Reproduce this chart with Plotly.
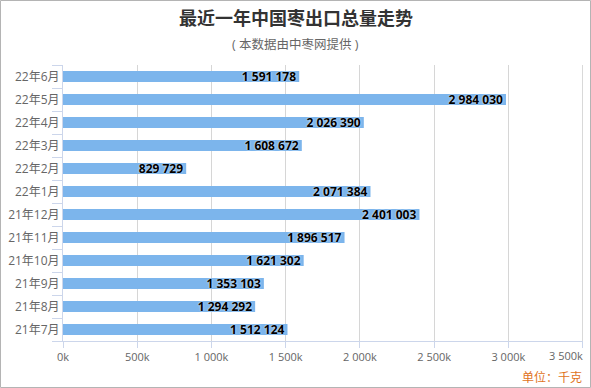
import plotly.graph_objects as go

categories = ["21年7月", "21年8月", "21年9月", "21年10月", "21年11月", "21年12月",
              "22年1月", "22年2月", "22年3月", "22年4月", "22年5月", "22年6月"]
export_kg = [1512124, 1294292, 1353103, 1621302, 1896517, 2401003,
             2071384, 829729, 1608672, 2026390, 2984030, 1591178]
tick_values = [0, 500000, 1000000, 1500000, 2000000, 2500000, 3000000, 3500000]
tick_labels = ["0k", "500k", "1 000k", "1 500k", "2 000k", "2 500k", "3 000k", "3 500k"]

W, H = 591, 388
ML, MR, MT, MB = 63, 8, 65, 47
PW, PH = W - ML - MR, H - MT - MB

FONT = "Open Sans, Noto Sans CJK SC, sans-serif"

fig = go.Figure(go.Bar(
    x=export_kg, y=categories, orientation="h",
    marker=dict(color="#7cb5ec", line=dict(width=0)),
    texttemplate="%{x:,}", textposition="inside", insidetextanchor="end",
    textangle=0, constraintext="none",
    textfont=dict(family=FONT, size=12, color="#000000", weight="bold",
                  shadow="0px 0px 2px #ffffff"),
    cliponaxis=False, hoverinfo="skip",
))

x_max = tick_values[-1] * 1.0008

fig.update_layout(
    width=W, height=H,
    margin=dict(l=ML, r=MR, t=MT, b=MB, autoexpand=False),
    paper_bgcolor="white", plot_bgcolor="white",
    bargap=0.52, separators=". ",
    showlegend=False,
    font=dict(family=FONT, color="#666666"),
    xaxis=dict(range=[0, x_max], tickvals=tick_values,
               ticktext=tick_labels[:-1] + [""],
               showgrid=True, gridcolor="#d6d6d6", gridwidth=1,
               showline=True, linecolor="#ccd6eb", linewidth=1,
               ticks="outside", ticklen=6, tickcolor="#ccd6eb",
               tickfont=dict(size=11, color="#666666", family=FONT),
               zeroline=False, fixedrange=True, automargin=False),
    yaxis=dict(type="category", showline=True, linecolor="#ccd6eb", linewidth=1,
               ticks="outside", ticklen=10, tickcolor="#ccd6eb", tickson="boundaries",
               tickfont=dict(size=12, color="#666666", family=FONT),
               showgrid=False, zeroline=False, fixedrange=True, automargin=False),
    annotations=[
        dict(text="<b>最近一年中国枣出口总量走势</b>", xref="paper", yref="paper",
             x=(W / 2 - ML) / PW, y=(H - MB - 18) / PH, showarrow=False,
             font=dict(size=18, color="#333333", family=FONT), xanchor="center", yanchor="middle"),
        dict(text="( 本数据由中枣网提供 )", xref="paper", yref="paper",
             x=(W / 2 - ML) / PW, y=(H - MB - 44) / PH, showarrow=False,
             font=dict(size=12.5, color="#666666", family=FONT), xanchor="center", yanchor="middle"),
        dict(text="单位：千克", xref="paper", yref="paper",
             x=(584 - ML) / PW, y=(H - MB - 377) / PH, showarrow=False,
             font=dict(size=12, color="#e0731c", family=FONT), xanchor="right", yanchor="middle"),
        dict(text=tick_labels[-1], xref="x", yref="paper",
             x=tick_values[-1], y=(H - MB - 355) / PH, showarrow=False,
             font=dict(size=11, color="#666666", family=FONT), xanchor="right", yanchor="middle",
             xshift=2),
    ],
    shapes=[
        dict(type="line", xref="x", yref="paper", x0=tick_values[-1], x1=tick_values[-1],
             y0=0, y1=1, line=dict(color="#d6d6d6", width=1), layer="below"),
        dict(type="line", xref="x", yref="paper", x0=tick_values[-1], x1=tick_values[-1],
             y0=0, y1=-6 / PH, line=dict(color="#ccd6eb", width=1), layer="above"),
        dict(type="rect", xref="paper", yref="paper",
             x0=(0.5 - ML) / PW, x1=(W - 0.5 - ML) / PW,
             y0=(H - MB - 387.5) / PH, y1=(H - MB - 0.5) / PH,
             line=dict(color="#b4b4b4", width=1), layer="above"),
    ],
)

fig.write_html("out.html", config={"displayModeBar": False},
               post_script="document.body.style.margin='0';document.body.style.overflow='hidden';")
